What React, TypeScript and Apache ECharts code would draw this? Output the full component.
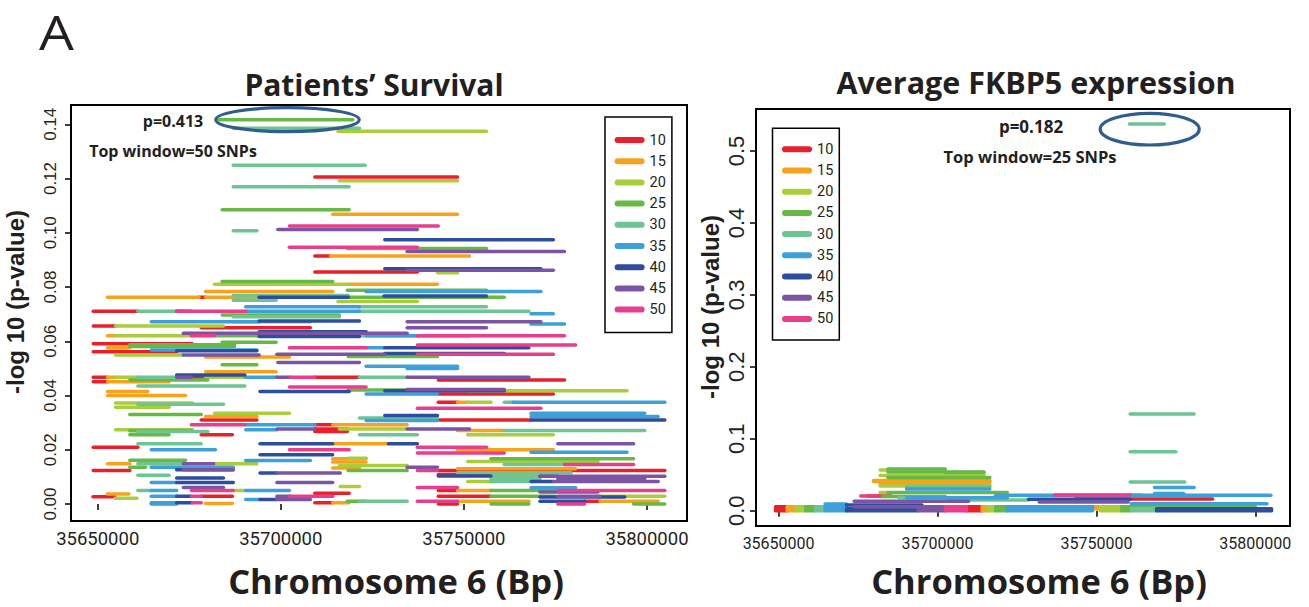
import React, { useEffect, useRef } from "react";
import * as echarts from "echarts";

// Window sizes (SNPs) and their colours
const windowSizes = ["10", "15", "20", "25", "30", "35", "40", "45", "50"];
const windowColors = ["#E8202A", "#F7A21B", "#AACD3B", "#67B946", "#6DC494", "#3DA0D9", "#2D4E9C", "#7B55A3", "#E83E8C"];

// Axis ticks
const xTicks = [35650000, 35700000, 35750000, 35800000];
const survivalYTicks = [0, 0.02, 0.04, 0.06, 0.08, 0.1, 0.12, 0.14];
const expressionYTicks = [0, 0.1, 0.2, 0.3, 0.4, 0.5];

// ---- Patients' Survival: [start bp, end bp, -log10 p] ----
const survivalW10 = [
  [35709290, 35748250, 0.1206], [35709290, 35713550, 0.0914], [35709290, 35737300, 0.0855],
  [35677640, 35679460, 0.0762], [35648780, 35660960, 0.0711], [35648780, 35654870, 0.0656],
  [35678250, 35708080, 0.065], [35648780, 35675810, 0.0591], [35648780, 35671550, 0.0561],
  [35648780, 35652680, 0.0467], [35675570, 35679460, 0.0467], [35709290, 35721470, 0.0467],
  [35648780, 35652680, 0.0451], [35743010, 35777470, 0.0457], [35743010, 35774430, 0.0406],
  [35743010, 35748250, 0.0375], [35678250, 35693460, 0.031], [35743010, 35768340, 0.031],
  [35709290, 35714160, 0.0292], [35709290, 35718180, 0.0277], [35709290, 35718180, 0.0267],
  [35678250, 35686770, 0.0255], [35648780, 35660960, 0.0209], [35648780, 35658770, 0.0124],
  [35743010, 35804870, 0.0124], [35743010, 35757380, 0.0109], [35743010, 35748250, 0.005],
  [35709290, 35718670, 0.004], [35648700, 35654700, 0.0027], [35678250, 35686770, 0.0029],
  [35743010, 35757380, 0.0029], [35782950, 35787210, 0.001], [35709290, 35714160, 0.0005],
  [35743010, 35748250, 0.0],
];
const survivalW15 = [
  [35714160, 35748250, 0.1068], [35713550, 35751540, 0.0914], [35718670, 35742770, 0.081],
  [35679460, 35714160, 0.0783], [35652680, 35677640, 0.0762], [35679460, 35694070, 0.0762],
  [35652680, 35654870, 0.062], [35652680, 35658770, 0.0576], [35679460, 35702350, 0.0542],
  [35679460, 35698700, 0.0488], [35652680, 35654870, 0.0467], [35652680, 35669480, 0.0451],
  [35652680, 35663640, 0.0415], [35652680, 35673980, 0.04], [35748250, 35751050, 0.0375],
  [35679460, 35693460, 0.0323], [35714160, 35734490, 0.0292], [35748250, 35761030, 0.0271],
  [35714160, 35729380, 0.0222], [35748250, 35774430, 0.02], [35714160, 35723290, 0.0167],
  [35714160, 35723290, 0.0155], [35652680, 35658770, 0.0148], [35714160, 35721470, 0.0133],
  [35748250, 35780520, 0.013], [35757380, 35770780, 0.0109], [35748250, 35757380, 0.005],
  [35652600, 35658500, 0.0037], [35748250, 35767730, 0.001], [35787210, 35803040, 0.001],
  [35679460, 35686770, 0.0002], [35714160, 35718670, 0.0005],
];
const survivalW20 = [
  [35715620, 35756170, 0.1374], [35715990, 35748250, 0.1192], [35742770, 35748250, 0.0853],
  [35681900, 35718670, 0.081], [35715620, 35737300, 0.0747], [35654870, 35684330, 0.0656],
  [35654870, 35675570, 0.062], [35654870, 35673380, 0.0549], [35654870, 35661200, 0.0467],
  [35679460, 35690180, 0.0467], [35751050, 35794520, 0.0418], [35751050, 35757380, 0.0375],
  [35654870, 35675810, 0.0372], [35654870, 35669480, 0.0357], [35681900, 35702350, 0.0335],
  [35715990, 35734490, 0.0277], [35654870, 35675810, 0.0274], [35751050, 35774430, 0.0255],
  [35718420, 35723290, 0.0169], [35751050, 35786600, 0.0157], [35681900, 35693460, 0.0148],
  [35715990, 35734490, 0.0142], [35757380, 35770780, 0.0103], [35751050, 35757380, 0.0083],
  [35716230, 35721470, 0.0065], [35687010, 35690180, 0.005], [35654700, 35660700, 0.0021],
  [35787210, 35804870, 0.0029],
];
const survivalW25 = [
  [35683120, 35719640, 0.1417], [35683970, 35718670, 0.1085], [35718180, 35756170, 0.0942],
  [35683970, 35714160, 0.082], [35718180, 35756170, 0.0788], [35718420, 35761030, 0.0762],
  [35683970, 35715990, 0.0697], [35682140, 35694070, 0.062], [35737300, 35751540, 0.062],
  [35683970, 35698700, 0.0596], [35658770, 35687380, 0.0581], [35658770, 35687380, 0.0587],
  [35718420, 35742770, 0.0544], [35683970, 35693460, 0.0513], [35658770, 35680070, 0.0457],
  [35718420, 35734490, 0.042], [35658770, 35678250, 0.033], [35658770, 35675810, 0.027],
  [35658770, 35669480, 0.0255], [35757380, 35796340, 0.0167], [35658770, 35673980, 0.0161],
  [35658770, 35663030, 0.0136], [35718420, 35734490, 0.0124], [35757380, 35775650, 0.005],
  [35757380, 35775040, 0.0029], [35718180, 35723290, 0.001], [35757380, 35767730, 0.0],
  [35796340, 35804870, 0.0],
];
const survivalW30 = [
  [35687010, 35721470, 0.1385], [35687010, 35723050, 0.1249], [35687010, 35718670, 0.117],
  [35687010, 35693460, 0.1007], [35687010, 35718420, 0.0769], [35687010, 35698700, 0.0751],
  [35660960, 35671550, 0.0711], [35721470, 35756170, 0.0727], [35721470, 35767730, 0.0711],
  [35687010, 35715990, 0.069], [35687010, 35708080, 0.0672], [35721470, 35737300, 0.062],
  [35660960, 35671550, 0.0467], [35721470, 35734490, 0.0467], [35660960, 35690180, 0.0435],
  [35761030, 35763470, 0.0375], [35660960, 35684330, 0.0368], [35721470, 35742770, 0.0317],
  [35761030, 35799390, 0.0271], [35660960, 35680070, 0.0267], [35721470, 35737300, 0.0255],
  [35660960, 35678250, 0.0222], [35660960, 35673980, 0.0148], [35761030, 35786600, 0.0146],
  [35748250, 35779300, 0.0115], [35660960, 35669480, 0.0106], [35757380, 35770780, 0.0102],
  [35757380, 35770780, 0.0093], [35757380, 35768340, 0.0083], [35660960, 35664610, 0.005],
  [35721470, 35734490, 0.001],
];
const survivalW35 = [
  [35723290, 35771020, 0.0783], [35690420, 35721470, 0.0727], [35690420, 35721470, 0.0711],
  [35768340, 35774430, 0.0701], [35664610, 35694070, 0.0672], [35768340, 35777470, 0.0664],
  [35723290, 35737300, 0.062], [35723290, 35728160, 0.0576], [35664610, 35693460, 0.0568],
  [35723290, 35748250, 0.0508], [35734490, 35748250, 0.05], [35690420, 35698940, 0.0467],
  [35723290, 35742770, 0.0406], [35763470, 35804870, 0.0375], [35768340, 35799390, 0.0335],
  [35768340, 35803040, 0.0323], [35723290, 35742770, 0.0308], [35690420, 35709290, 0.0292],
  [35690420, 35698940, 0.0274], [35664610, 35682140, 0.02], [35768340, 35794520, 0.0191],
  [35690420, 35708080, 0.016], [35664610, 35687010, 0.0136], [35664610, 35671550, 0.0079],
  [35768340, 35780520, 0.006], [35664610, 35671550, 0.005], [35690420, 35702350, 0.005],
  [35664610, 35671550, 0.0029], [35690420, 35694320, 0.0017], [35664610, 35671550, 0.0005],
  [35664610, 35671550, 0.0],
];
const survivalW40 = [
  [35728400, 35774430, 0.0974], [35728400, 35771020, 0.0867], [35694070, 35718420, 0.0762],
  [35728160, 35756170, 0.0767], [35671550, 35673380, 0.0711], [35694070, 35721470, 0.0675],
  [35694070, 35723290, 0.0635], [35694070, 35721470, 0.0618], [35728400, 35767730, 0.0576],
  [35671550, 35693460, 0.0565], [35728400, 35761030, 0.0555], [35671550, 35690180, 0.0476],
  [35694320, 35718670, 0.0415], [35728400, 35761030, 0.0418], [35728400, 35742770, 0.0326],
  [35768340, 35804870, 0.031], [35694320, 35714160, 0.0222], [35729380, 35737300, 0.0222],
  [35694320, 35714160, 0.0182], [35671550, 35687010, 0.0126], [35694320, 35698940, 0.0114],
  [35743010, 35757380, 0.0103], [35770780, 35775650, 0.0102], [35671550, 35684330, 0.0096],
  [35768340, 35774430, 0.0083], [35671550, 35687010, 0.0079], [35671550, 35675570, 0.0029],
  [35770780, 35793910, 0.0026], [35694320, 35698940, 0.0017], [35770780, 35782950, 0.001],
  [35671550, 35675810, 0.0005],
];
const survivalW45 = [
  [35699190, 35737300, 0.1012], [35734490, 35777470, 0.0931], [35734490, 35774430, 0.0862],
  [35673380, 35675570, 0.0711], [35734490, 35771020, 0.0672], [35734490, 35756170, 0.065],
  [35673380, 35698940, 0.063], [35698940, 35734490, 0.063], [35673380, 35694070, 0.0549],
  [35698940, 35728400, 0.0552], [35699190, 35721470, 0.0522], [35671550, 35675570, 0.0467],
  [35698940, 35702600, 0.0467], [35734490, 35767730, 0.0467], [35734490, 35761030, 0.0422],
  [35698940, 35709290, 0.0277], [35734490, 35751540, 0.0277], [35775650, 35796340, 0.0222],
  [35673380, 35681660, 0.0148], [35734490, 35742770, 0.0136], [35673380, 35687010, 0.0126],
  [35698940, 35716230, 0.0114], [35770780, 35804870, 0.0102], [35775650, 35799390, 0.0093],
  [35774430, 35803040, 0.0083], [35698940, 35714160, 0.0079], [35673380, 35684330, 0.0061],
  [35770780, 35786600, 0.0044], [35775650, 35787210, 0.0029], [35698940, 35702600, 0.0029],
  [35698940, 35708080, 0.0017],
];
const survivalW50 = [
  [35702350, 35743010, 0.1025], [35702350, 35737300, 0.0947], [35671550, 35690420, 0.0711],
  [35675570, 35681900, 0.062], [35737300, 35777470, 0.062], [35702350, 35723290, 0.0576],
  [35737300, 35780520, 0.0586], [35737300, 35774430, 0.0552], [35702600, 35709290, 0.0467],
  [35702350, 35723290, 0.0431], [35737300, 35771020, 0.0353], [35675570, 35690180, 0.0292],
  [35737300, 35756170, 0.0209], [35702350, 35718670, 0.02], [35737300, 35761030, 0.0188],
  [35777470, 35796340, 0.0146], [35737300, 35742770, 0.0124], [35737300, 35748250, 0.0061],
  [35675570, 35687010, 0.005], [35775650, 35804870, 0.005], [35675570, 35678250, 0.0029],
  [35702350, 35714160, 0.0029], [35737300, 35748250, 0.001], [35675810, 35678250, 0.0005],
  [35775650, 35782950, 0.0],
];

// ---- Average FKBP5 expression: [start bp, end bp, -log10 p] ----
const expressionW10 = [
  [35649020, 35652680, 0.0056], [35649020, 35652680, 0.0028], [35649020, 35652680, 0.0],
  [35709150, 35714020, 0.0056], [35709150, 35714020, 0.0028], [35709150, 35714020, 0.0],
  [35743290, 35786580, 0.0163], [35678050, 35685370, 0.0205],
];
const expressionW15 = [
  [35652680, 35655490, 0.0056], [35652680, 35655490, 0.0028], [35652680, 35655490, 0.0],
  [35714020, 35715850, 0.0056], [35714020, 35715850, 0.0028], [35714020, 35715850, 0.0],
  [35748780, 35751220, 0.0056], [35748780, 35751220, 0.0028],
  [35679880, 35716460, 0.0405], [35679880, 35716460, 0.042], [35681950, 35716460, 0.0372],
];
const expressionW20 = [
  [35655490, 35658540, 0.0056], [35655490, 35658540, 0.0028], [35655490, 35658540, 0.0],
  [35715850, 35718290, 0.0056], [35715850, 35718290, 0.0028], [35715850, 35718290, 0.0],
  [35751220, 35757930, 0.0056], [35751220, 35757930, 0.0028], [35751220, 35757930, 0.0],
  [35681950, 35684390, 0.0567], [35681950, 35714630, 0.0488], [35681950, 35716460, 0.0344],
  [35681950, 35684390, 0.0251],
];
const expressionW25 = [
  [35658540, 35661590, 0.0056], [35658540, 35661590, 0.0028], [35658540, 35661590, 0.0],
  [35718290, 35721950, 0.0056], [35718290, 35721950, 0.0028], [35718290, 35721950, 0.0],
  [35757930, 35800000, 0.0056], [35757930, 35760980, 0.0028], [35757930, 35760980, 0.0],
  [35684390, 35702440, 0.0581], [35684390, 35714630, 0.0539], [35702440, 35714630, 0.053],
  [35684390, 35716460, 0.046], [35684390, 35721950, 0.0251], [35681950, 35702440, 0.0198],
];
const expressionW30 = [
  [35661590, 35664630, 0.0056], [35661590, 35664630, 0.0028], [35661590, 35664630, 0.0],
  [35760980, 35768900, 0.0028], [35760980, 35768900, 0.0],
  [35760610, 35780730, 0.1344], [35760610, 35775000, 0.0818], [35760610, 35777800, 0.04],
  [35690240, 35716460, 0.0335], [35687800, 35703660, 0.0181], [35703660, 35728660, 0.0149],
  [35760610, 35764030, 0.0219], [35760380, 35771350, 0.5375],
];
const expressionW35 = [
  [35664630, 35671340, 0.0056], [35664630, 35671340, 0.0028], [35664630, 35671340, 0.0],
  [35721950, 35748780, 0.0056], [35721950, 35748780, 0.0028], [35721950, 35748780, 0.0],
  [35718290, 35804880, 0.0214], [35768290, 35780730, 0.0321], [35768290, 35777440, 0.024],
  [35690240, 35716460, 0.0302], [35690240, 35721950, 0.0181], [35760980, 35803660, 0.0095],
  [35664630, 35671340, 0.0093],
];
const expressionW40 = [
  [35671340, 35693900, 0.0028], [35671340, 35693900, 0.0],
  [35768900, 35805120, 0.0028], [35768900, 35805120, 0.0],
  [35671340, 35695120, 0.0079], [35728660, 35760610, 0.0158],
];
const expressionW45 = [
  [35693900, 35702440, 0.0056], [35693900, 35702440, 0.0028], [35693900, 35702440, 0.0],
  [35673780, 35693900, 0.0056], [35673780, 35709760, 0.013], [35732000, 35760000, 0.012],
];
const expressionW50 = [
  [35702440, 35709150, 0.0056], [35702440, 35709150, 0.0028], [35702440, 35709150, 0.0],
  [35736830, 35760610, 0.0219], [35675850, 35681950, 0.0205],
];

const survivalSets = [survivalW10, survivalW15, survivalW20, survivalW25, survivalW30, survivalW35, survivalW40, survivalW45, survivalW50];
const expressionSets = [expressionW10, expressionW15, expressionW20, expressionW25, expressionW30, expressionW35, expressionW40, expressionW45, expressionW50];

const INK = "#231F20";
const TICKFONT = "Roboto, 'Liberation Sans', sans-serif";
const BOLD = "'Open Sans', 'Liberation Sans', sans-serif";
const ARIAL = "'Liberation Sans', Arial, sans-serif";
const ELLIPSE = "#2F5E8E";

const segmentRenderer = (color: string) => (params: any, api: any) => {
  const a = api.coord([api.value(0), api.value(2)]);
  const b = api.coord([api.value(1), api.value(2)]);
  return {
    type: "line",
    shape: { x1: a[0], y1: a[1], x2: b[0], y2: b[1] },
    style: { stroke: color, lineWidth: 3.5, lineCap: "round" },
  };
};

const legendIcon = "path://M2 0 L18 0 A2 2 0 0 1 18 4 L2 4 A2 2 0 0 1 2 0 Z";

export default function App() {
  const ref = useRef<HTMLDivElement>(null);
  useEffect(() => {
    if (!ref.current) return;
    const chart = echarts.init(ref.current, undefined, { renderer: "svg" });

    const series: any[] = [];
    survivalSets.forEach((set, i) => {
      series.push({
        type: "custom", name: windowSizes[i], xAxisIndex: 0, yAxisIndex: 0,
        itemStyle: { color: windowColors[i] },
        encode: { x: [0, 1], y: 2 },
        renderItem: segmentRenderer(windowColors[i]),
        data: set,
      });
    });
    expressionSets.forEach((set, i) => {
      series.push({
        type: "custom", name: windowSizes[i], xAxisIndex: 1, yAxisIndex: 1,
        itemStyle: { color: windowColors[i] },
        encode: { x: [0, 1], y: 2 },
        renderItem: segmentRenderer(windowColors[i]),
        data: set,
      });
    });

    const xAxisBase = (fontSize: number, margin: number) => ({
      type: "value",
      axisLine: { show: false },
      splitLine: { show: false },
      axisTick: { show: true, length: 6, customValues: xTicks, lineStyle: { color: "#000", width: 1.5 } },
      axisLabel: {
        customValues: xTicks, margin, color: INK, fontFamily: TICKFONT, fontSize,
        formatter: (v: number) => String(Math.round(v)),
      },
    });

    const legendBase = {
      orient: "vertical",
      data: windowSizes,
      icon: legendIcon,
      itemWidth: 30,
      itemHeight: 6,
      itemGap: 5.2,
      selectedMode: false,
      borderColor: "#000",
      borderWidth: 1.5,
      itemStyle: { borderWidth: 0 },
      textStyle: { fontFamily: TICKFONT, fontSize: 14.5, color: INK, lineHeight: 16 },
    };

    chart.setOption({
      animation: false,
      backgroundColor: "#fff",
      grid: [
        { left: 71, top: 105, width: 616, height: 416, show: true, borderColor: "#000", borderWidth: 2 },
        { left: 756, top: 109, width: 534, height: 417, show: true, borderColor: "#000", borderWidth: 2 },
      ],
      xAxis: [
        { ...xAxisBase(18.5, 8), gridIndex: 0, min: 35642700, max: 35810930 },
        { ...xAxisBase(16, 9), gridIndex: 1, min: 35642890, max: 35810910 },
      ],
      yAxis: [
        {
          type: "value", gridIndex: 0, min: -0.00626, max: 0.1471,
          axisLine: { show: false }, splitLine: { show: false },
          axisTick: { show: true, length: 6, customValues: survivalYTicks, lineStyle: { color: "#000", width: 1.5 } },
          axisLabel: {
            customValues: survivalYTicks, rotate: 90, margin: 12, color: INK,
            fontFamily: ARIAL, fontSize: 17,
            formatter: (v: number) => v.toFixed(2),
          },
        },
        {
          type: "value", gridIndex: 1, min: -0.0213, max: 0.5584,
          axisLine: { show: false }, splitLine: { show: false },
          axisTick: { show: true, length: 6, customValues: expressionYTicks, lineStyle: { color: "#000", width: 1.5 } },
          axisLabel: {
            customValues: expressionYTicks, rotate: 90, margin: 9, color: INK,
            fontFamily: ARIAL, fontSize: 22,
            formatter: (v: number) => v.toFixed(1),
          },
        },
      ],
      legend: [
        { ...legendBase, left: 605, top: 117, padding: [15, 6, 15, 9.6] },
        { ...legendBase, left: 772.5, top: 128.3, padding: [13, 6, 13, 9.5] },
      ],
      graphic: [
        { type: "text", x: 39, y: 31, scaleX: 1.15, style: { text: "A", fontFamily: "'Open Sans', sans-serif", fontSize: 48, fill: INK, align: "left", verticalAlign: "middle" } },
        { type: "text", x: 374, y: 84, style: { text: "Patients\u2019 Survival", fontFamily: BOLD, fontWeight: "bold", fontSize: 30, fill: INK, align: "center", verticalAlign: "middle" } },
        { type: "text", x: 1036, y: 82, style: { text: "Average FKBP5 expression", fontFamily: BOLD, fontWeight: "bold", fontSize: 30.5, fill: INK, align: "center", verticalAlign: "middle" } },
        { type: "text", x: 396, y: 580, style: { text: "Chromosome 6 (Bp)", fontFamily: BOLD, fontWeight: "bold", fontSize: 34.5, fill: INK, align: "center", verticalAlign: "middle" } },
        { type: "text", x: 1039, y: 580, style: { text: "Chromosome 6 (Bp)", fontFamily: BOLD, fontWeight: "bold", fontSize: 34.5, fill: INK, align: "center", verticalAlign: "middle" } },
        { type: "text", x: 15, y: 302, rotation: Math.PI / 2, style: { text: "-log 10 (p-value)", fontFamily: ARIAL, fontWeight: "bold", fontSize: 24, fill: INK, align: "center", verticalAlign: "middle" } },
        { type: "text", x: 710, y: 307, rotation: Math.PI / 2, style: { text: "-log 10 (p-value)", fontFamily: ARIAL, fontWeight: "bold", fontSize: 24, fill: INK, align: "center", verticalAlign: "middle" } },
        { type: "text", x: 173, y: 121, style: { text: "p=0.413", fontFamily: BOLD, fontWeight: "bold", fontSize: 16, fill: INK, align: "center", verticalAlign: "middle" } },
        { type: "text", x: 173, y: 151, style: { text: "Top window=50 SNPs", fontFamily: BOLD, fontWeight: "bold", fontSize: 16, fill: INK, align: "center", verticalAlign: "middle" } },
        { type: "text", x: 1031, y: 126, style: { text: "p=0.182", fontFamily: BOLD, fontWeight: "bold", fontSize: 17, fill: INK, align: "center", verticalAlign: "middle" } },
        { type: "text", x: 1030, y: 156, style: { text: "Top window=25 SNPs", fontFamily: BOLD, fontWeight: "bold", fontSize: 16.5, fill: INK, align: "center", verticalAlign: "middle" } },
        { type: "ellipse", z: 100, shape: { cx: 287.5, cy: 119.7, rx: 71.7, ry: 12 }, style: { fill: "none", stroke: ELLIPSE, lineWidth: 3.2 } },
        { type: "ellipse", z: 100, shape: { cx: 1149.7, cy: 129.2, rx: 49.5, ry: 15.8 }, style: { fill: "none", stroke: ELLIPSE, lineWidth: 3.2 } },
      ],
      series,
    });

    return () => chart.dispose();
  }, []);

  return <div ref={ref} style={{ position: "fixed", left: 0, top: 0, width: 1309, height: 607 }} />;
}
